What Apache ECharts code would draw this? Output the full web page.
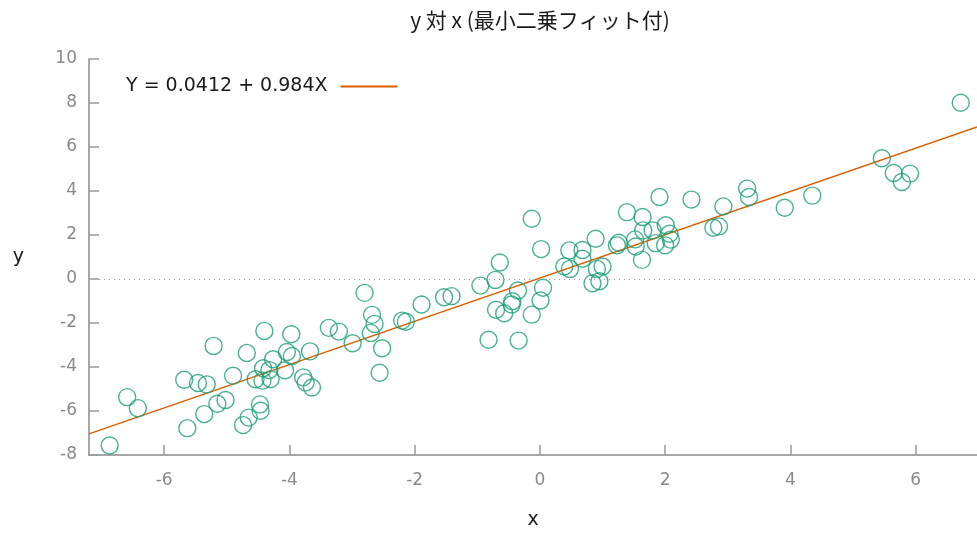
<!DOCTYPE html>
<html>
<head>
<meta charset="utf-8">
<script src="https://cdn.jsdelivr.net/npm/echarts@6/dist/echarts.min.js"></script>
<style>
html,body{margin:0;padding:0;background:#fff;}
#chart{width:977px;height:536px;}
</style>
</head>
<body>
<div id="chart"></div>
<script>
var xValues = [-6.87,-6.59,-6.42,-5.68,-5.63,-5.46,-5.32,-5.36,-5.21,-5.15,-5.02,-4.90,-4.74,-4.68,-4.65,-4.54,-4.47,-4.46,-4.40,-4.43,-4.42,-4.32,-4.30,-4.26,-4.07,-4.04,-3.97,-3.96,-3.78,-3.74,-3.67,-3.64,-3.37,-3.21,-2.99,-2.80,-2.68,-2.64,-2.70,-2.52,-2.56,-2.20,-2.14,-1.89,-1.53,-1.41,-0.95,-0.82,-0.71,-0.64,-0.70,-0.57,-0.45,-0.44,-0.35,-0.34,-0.13,-0.13,0.02,0.05,0.01,0.39,0.47,0.48,0.68,0.68,0.89,0.84,0.95,0.91,1.00,1.23,1.26,1.39,1.52,1.53,1.64,1.63,1.65,1.80,1.85,1.91,2.01,2.07,2.09,2.00,2.42,2.77,2.86,2.93,3.31,3.34,3.91,4.35,5.46,5.65,5.78,5.91,6.72];
var yValues = [-7.57,-5.37,-5.87,-4.58,-6.78,-4.73,-4.79,-6.14,-3.04,-5.67,-5.50,-4.40,-6.64,-3.36,-6.30,-4.56,-5.70,-5.99,-2.36,-4.62,-4.06,-4.14,-4.55,-3.65,-4.15,-3.32,-2.51,-3.50,-4.47,-4.70,-3.29,-4.93,-2.22,-2.39,-2.92,-0.63,-1.63,-2.04,-2.45,-3.15,-4.26,-1.89,-1.94,-1.16,-0.83,-0.78,-0.30,-2.76,-0.04,0.75,-1.40,-1.56,-1.16,-1.01,-0.52,-2.80,2.74,-1.62,1.36,-0.40,-0.98,0.57,1.30,0.46,1.32,0.92,1.83,-0.19,-0.10,0.46,0.57,1.53,1.65,3.04,1.80,1.48,2.82,0.87,2.21,2.21,1.63,3.73,2.44,2.06,1.79,1.53,3.61,2.33,2.39,3.30,4.11,3.73,3.24,3.79,5.49,4.82,4.41,4.79,8.01];
var fitIntercept = 0.0412;
var fitSlope = 0.984;
var fitLabel = 'Y = 0.0412 + 0.984X';
var xTicks = [-6,-4,-2,0,2,4,6];
var yTicks = [-8,-6,-4,-2,0,2,4,6,8,10];
var xMin = -7.2, xMax = 6.98;

var points = xValues.map(function(x,i){return [x,yValues[i]];});
var fitLine = [[xMin, fitIntercept + fitSlope*xMin],[xMax, fitIntercept + fitSlope*xMax]];

var chart = echarts.init(document.getElementById('chart'));
var labelFont = '"DejaVu Sans", sans-serif';
chart.setOption({
  animation:false,
  backgroundColor:'#fff',
  title:{
    text:'y 対 x (最小二乗フィット付)',
    left:535, top:5, textAlign:'center',
    textStyle:{fontFamily:'"Noto Sans CJK JP", sans-serif',fontSize:21,fontWeight:'normal',color:'#1a1a1a'}
  },
  legend:{
    left:121, top:72, align:'right',
    itemWidth:57, itemHeight:2,
    data:[{name:fitLabel, icon:'rect'}],
    textStyle:{fontFamily:labelFont,fontSize:19,color:'#1a1a1a',padding:[0,8,0,0]}
  },
  grid:{left:89,right:0,top:59,bottom:81,containLabel:false},
  xAxis:{
    type:'value', min:xMin, max:xMax,
    name:'x', nameLocation:'middle', nameGap:56,
    nameTextStyle:{fontFamily:labelFont,fontSize:19,color:'#1a1a1a'},
    axisLine:{show:true,onZero:false,lineStyle:{color:'#8a8a8a',width:1.5}},
    axisTick:{show:true,inside:true,length:10,customValues:xTicks,lineStyle:{color:'#9a9a9a',width:1.5}},
    axisLabel:{customValues:xTicks,margin:17,fontFamily:labelFont,fontSize:17,color:'#8a8a8a'},
    splitLine:{show:false}
  },
  yAxis:{
    type:'value', min:-8, max:10, interval:2,
    name:'y', nameLocation:'middle', nameGap:65, nameRotate:0,
    nameTextStyle:{fontFamily:labelFont,fontSize:19,color:'#1a1a1a'},
    axisLine:{show:true,onZero:false,lineStyle:{color:'#8a8a8a',width:1.5}},
    axisTick:{show:true,inside:true,length:10,lineStyle:{color:'#9a9a9a',width:1.5}},
    axisLabel:{margin:12,fontFamily:labelFont,fontSize:17,color:'#8a8a8a'},
    splitLine:{show:false}
  },
  series:[
    {
      type:'scatter', name:'data', data:points,
      symbol:'circle', symbolSize:17,
      itemStyle:{color:'rgba(0,0,0,0)',borderColor:'#1b9e77',borderWidth:1.4},
      markLine:{
        silent:true, symbol:['none','none'], label:{show:false},
        lineStyle:{color:'#9a9a9a',type:[1,4],width:1},
        data:[{yAxis:0}]
      },
      z:3
    },
    {
      type:'line', name:fitLabel, data:fitLine,
      symbol:'none', color:'#d95f02',
      lineStyle:{color:'#d95f02',width:1.4},
      z:2
    }
  ]
});
</script>
</body>
</html>
